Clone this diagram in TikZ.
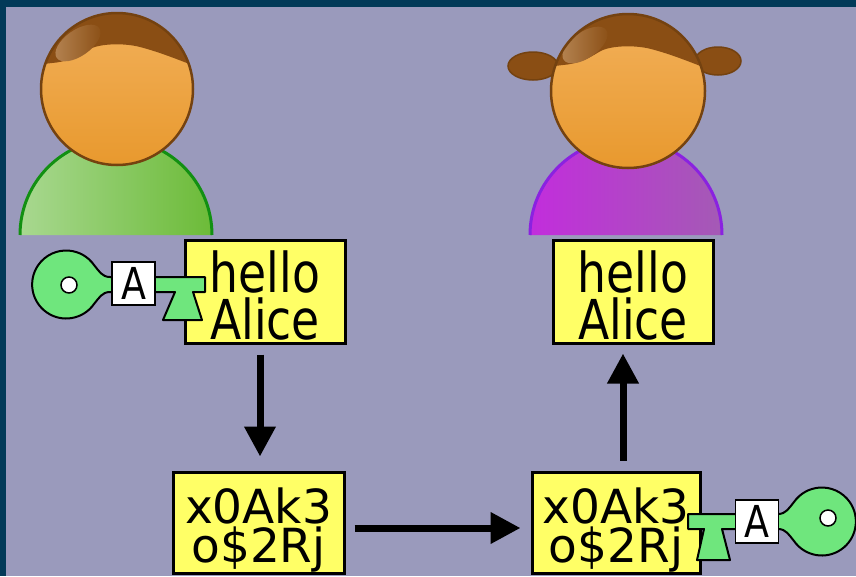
\documentclass[tikz,border=0pt]{standalone}
\usepackage{fontspec}
\newfontfamily\msgfont{DejaVu Sans}[FakeStretch=0.83]
\newfontfamily\cipherfont{DejaVu Sans}
\usetikzlibrary{arrows.meta}
\setlength{\lineskiplimit}{-20pt}

\definecolor{framecol}{HTML}{023A58}
\definecolor{bgcol}{HTML}{9A9ABC}
\definecolor{haircol}{HTML}{8A4E14}
\definecolor{hairline}{HTML}{744210}
\definecolor{hairlight}{HTML}{B58452}
\definecolor{headtop}{HTML}{F2B05A}
\definecolor{headbot}{HTML}{E8992E}
\definecolor{shirtgreenL}{HTML}{A8D890}
\definecolor{shirtgreenR}{HTML}{6CBB38}
\definecolor{shirtgreenline}{HTML}{129012}
\definecolor{shirtpurpleL}{HTML}{C22DDC}
\definecolor{shirtpurpleR}{HTML}{A45AB5}
\definecolor{shirtpurpleline}{HTML}{8A22E0}
\definecolor{msgyellow}{HTML}{FFFF66}
\definecolor{keygreen}{HTML}{6FE67D}

\tikzset{
  msg/.style={draw=black, line width=3pt, fill=msgyellow, inner sep=0pt, align=center},
  plain/.style={msg, font=\msgfont\fontsize{55}{47}\selectfont,
    minimum width=160pt, minimum height=103pt},
  cipher/.style={msg, font=\cipherfont\fontsize{47}{39}\selectfont,
    minimum height=101pt},
  keyshape/.style={fill=keygreen, draw=black, line width=2pt, line join=round},
  keyhole/.style={fill=white, draw=black, line width=1.5pt},
  keylabel/.style={draw=black, fill=white, line width=1.5pt, inner sep=0pt,
    minimum width=43pt, minimum height=43pt, font=\msgfont\fontsize{44}{44}\selectfont},
  flow/.style={line width=7pt, -{Triangle[length=30pt,width=30pt]}},
  headline/.style={draw=hairline, line width=2.5pt},
  hair/.style={fill=haircol},
}

% hair line across the forehead, relative to the head centre
\newcommand{\hairpath}{%
  (-90,-23) -- (-65,-26) .. controls (-52,-27) and (-42,-31) .. (-29,-39)
  .. controls (-18,-46) and (8,-46) .. (23,-42)
  .. controls (42,-37) and (60,-30) .. (90,-18)
  -- (90,-90) -- (-90,-90) -- cycle}

\begin{document}
\begin{tikzpicture}[x=1pt,y=-1pt]
  \useasboundingbox (0,0) rectangle (856,576);
  \fill[framecol] (0,0) rectangle (856,576);
  \fill[bgcol] (6,7) rectangle (856,576);

  % ---- Bob ----
  \shade[left color=shirtgreenL, right color=shirtgreenR]
    (20,235) arc[start angle=180, end angle=360, radius=96] -- cycle;
  \draw[shirtgreenline, line width=3pt]
    (20,235) arc[start angle=180, end angle=360, radius=96];
  \begin{scope}[shift={(117,89)}]
    \shade[top color=headtop, bottom color=headbot] (0,0) circle[radius=76];
    \begin{scope}
      \clip (0,0) circle[radius=76];
      \fill[hair] \hairpath;
      \shade[left color=hairlight, right color=haircol, rotate around={35:(-39,-46)}]
        (-39,-46) ellipse[x radius=26, y radius=13];
    \end{scope}
    \draw[headline] (0,0) circle[radius=76];
  \end{scope}

  % ---- Alice ----
  \filldraw[fill=haircol, draw=hairline, line width=1.5pt]
    (533,66) ellipse[x radius=25, y radius=14];
  \filldraw[fill=haircol, draw=hairline, line width=1.5pt]
    (718,61) ellipse[x radius=23, y radius=14];
  \shade[left color=shirtpurpleL, middle color=shirtpurpleL, right color=shirtpurpleR]
    (530,235) arc[start angle=180, end angle=360, radius=96] -- cycle;
  \draw[shirtpurpleline, line width=3pt]
    (530,235) arc[start angle=180, end angle=360, radius=96];
  \begin{scope}[shift={(628,91)}]
    \shade[top color=headtop, bottom color=headbot] (0,0) circle[radius=77];
    \begin{scope}
      \clip (0,0) circle[radius=77];
      \fill[hair] \hairpath;
      \shade[left color=hairlight, right color=haircol, rotate around={35:(-43,-46)}]
        (-43,-46) ellipse[x radius=26, y radius=13];
    \end{scope}
    \draw[headline] (0,0) circle[radius=77];
  \end{scope}

  % ---- messages ----
  \node[plain] (plainA) at (265,291.5) {\rule{0pt}{50pt}hello\\Alice};
  \node[plain] (plainB) at (633,291.5) {\rule{0pt}{50pt}hello\\Alice};
  \node[cipher, minimum width=171pt] (cipherA) at (258.5,522.5) {\rule{0pt}{50pt}x0Ak3\\o\$2Rj};
  \node[cipher, minimum width=168pt] (cipherB) at (616,522.5) {\rule{0pt}{50pt}x0Ak3\\o\$2Rj};

  % ---- Alice's key locking the message ----
  \draw[keyshape]
    (94,265) .. controls (99,271) and (102,277) .. (110,277)
    -- (205,277) -- (205,292) -- (193,292) -- (202,320) -- (163,320) -- (175,292)
    -- (110,292) .. controls (102,292) and (99,298) .. (94,304)
    arc[start angle=35, end angle=325, radius=34] -- cycle;
  \draw[keyhole] (69,285) circle[radius=8];
  \node[keylabel] (labelA) at (133.5,283.5) {A};

  % ---- Alice's key unlocking the message ----
  \draw[keyshape]
    (794,502) .. controls (789,508) and (786,514) .. (778,514)
    -- (688,514) -- (688,529) -- (704,529) -- (697,560) -- (730,560) -- (722,529)
    -- (778,529) .. controls (786,529) and (789,535) .. (794,541)
    arc[start angle=145, end angle=-145, radius=34] -- cycle;
  \draw[keyhole] (828,518) circle[radius=8];
  \node[keylabel] (labelB) at (757,521.5) {A};

  % ---- flow of the message ----
  \draw[flow, shorten <=10pt, shorten >=14pt]
    ([xshift=1.5pt]cipherA.north |- plainA.south) -- ([xshift=1.5pt]cipherA.north);
  \draw[flow, shorten <=9pt, shorten >=10pt]
    ([yshift=-5.5pt]cipherA.east) -- ([yshift=-5.5pt]cipherA.east -| cipherB.west);
  \draw[flow, shorten <=10pt, shorten >=9pt]
    ([xshift=7pt]cipherB.north) -- ([xshift=7pt]cipherB.north |- plainB.south);
\end{tikzpicture}
\end{document}
